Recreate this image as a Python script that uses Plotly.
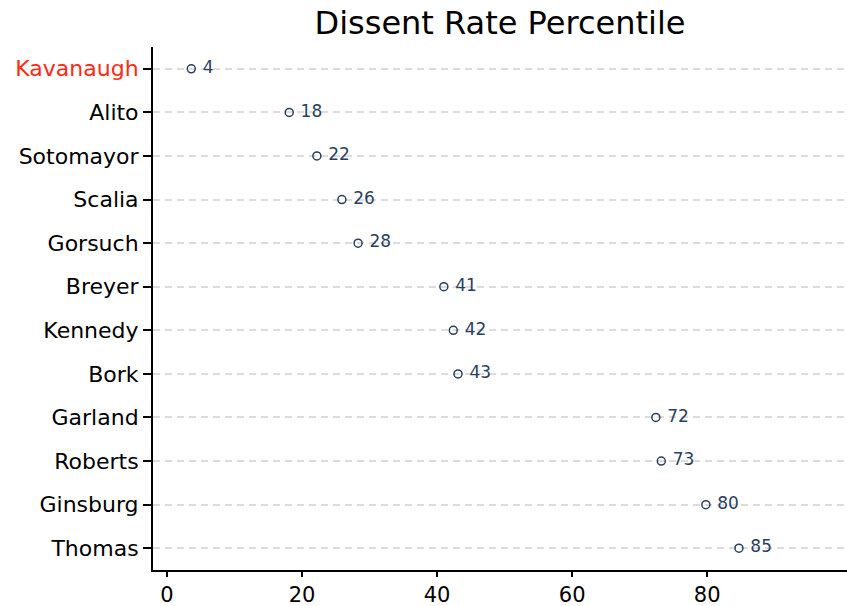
import plotly.graph_objects as go

# Justices ordered top to bottom, with estimated dissent rate percentile
justices = ["Kavanaugh", "Alito", "Sotomayor", "Scalia", "Gorsuch", "Breyer",
            "Kennedy", "Bork", "Garland", "Roberts", "Ginsburg", "Thomas"]
percentile = [3.6, 18.1, 22.2, 25.9, 28.3, 41.0, 42.4, 43.1, 72.4, 73.2, 79.8, 84.7]
highlight = "Kavanaugh"
x_ticks = [0, 20, 40, 60, 80]

navy = "#2a3f5f"
labels = [f"\u00a0{v:.0f}" for v in percentile]
tick_text = [
    f"<span style='color:#ff2a12'>{j}</span>" if j == highlight else j
    for j in justices
]

fig = go.Figure(
    go.Scatter(
        x=percentile,
        y=justices,
        mode="markers+text",
        text=labels,
        textposition="middle right",
        textfont=dict(size=17, color=navy, family="DejaVu Sans"),
        marker=dict(symbol="circle-open", size=8, color=navy, line=dict(width=1.5)),
        cliponaxis=False,
        showlegend=False,
    )
)

fig.update_layout(
    width=847,
    height=606,
    margin=dict(l=153, r=0, t=47, b=36),
    paper_bgcolor="white",
    plot_bgcolor="white",
    font=dict(family="DejaVu Sans", color="black", size=22),
    title=dict(
        text="Dissent Rate Percentile",
        x=0.5,
        xref="paper",
        y=0.963,
        yanchor="middle",
        font=dict(size=32, color="black"),
    ),
)

fig.update_xaxes(
    range=[-2.07, 100.7],
    tickvals=x_ticks,
    automargin=False,
    showgrid=False,
    zeroline=False,
    showline=True,
    linecolor="black",
    linewidth=2,
    ticks="outside",
    ticklen=5,
    tickwidth=1.5,
    tickcolor="black",
    tickfont=dict(size=21, color="black"),
)

fig.update_yaxes(
    categoryorder="array",
    categoryarray=justices,
    tickvals=justices,
    ticktext=tick_text,
    range=[len(justices) - 0.5, -0.5],
    automargin=False,
    showgrid=True,
    gridcolor="#dcdcdc",
    griddash="7px,5px",
    gridwidth=1.5,
    zeroline=False,
    showline=True,
    linecolor="black",
    linewidth=2,
    ticks="outside",
    ticklen=8,
    tickwidth=1.5,
    tickcolor="black",
    tickfont=dict(size=22, color="black"),
)

fig.write_html(
    "out.html",
    config={"displayModeBar": False},
    post_script="document.body.style.margin='0';",
)
